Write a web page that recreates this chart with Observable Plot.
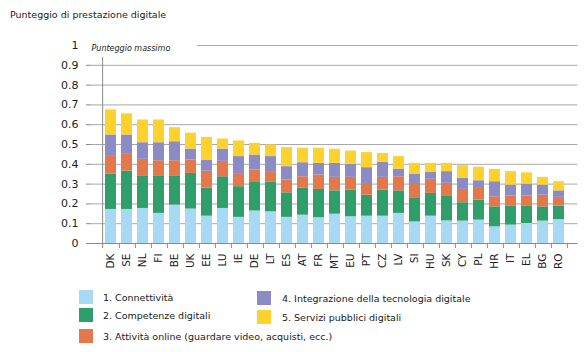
<!DOCTYPE html>
<html>
<head>
<meta charset="utf-8">
<script src="https://cdn.jsdelivr.net/npm/d3@7"></script>
<script src="https://cdn.jsdelivr.net/npm/@observablehq/plot@0.6"></script>
<style>
  html, body { margin: 0; padding: 0; background: #fff; }
  #wrap { position: relative; width: 587px; height: 352px; overflow: hidden; font-family: "DejaVu Sans", sans-serif; color: #222; }
  #chart { position: absolute; left: 0; top: 0; }
  #title { position: absolute; left: 10px; top: 9px; font-size: 9.5px; white-space: nowrap; }
  .item { position: absolute; display: flex; align-items: center; font-size: 9.5px; white-space: nowrap; }
  .sw { width: 13.5px; height: 13.5px; flex: none; }
</style>
</head>
<body>
<div id="wrap">
  <div id="chart"></div>
  <div id="title"></div>
  <div id="legend"></div>
</div>
<script>
const titleText = "Punteggio di prestazione digitale";
const maxLabel = "Punteggio massimo";
const countries = ["DK","SE","NL","FI","BE","UK","EE","LU","IE","DE","LT","ES","AT","FR","MT","EU","PT","CZ","LV","SI","HU","SK","CY","PL","HR","IT","EL","BG","RO"];
const seriesNames = ["1. Connettività","2. Competenze digitali","3. Attività online (guardare video, acquisti, ecc.)","4. Integrazione della tecnologia digitale","5. Servizi pubblici digitali"];
const seriesColors = ["#a7d9f4","#2f9e6a","#e3784a","#8b8cc6","#fdd22f"];
const connettivita = [0.172,0.172,0.177,0.152,0.194,0.174,0.138,0.177,0.132,0.164,0.160,0.132,0.143,0.130,0.148,0.135,0.138,0.138,0.152,0.109,0.138,0.114,0.113,0.118,0.084,0.093,0.101,0.113,0.121];
const competenze   = [0.179,0.194,0.165,0.190,0.148,0.180,0.142,0.160,0.155,0.148,0.149,0.124,0.138,0.143,0.118,0.135,0.106,0.132,0.114,0.122,0.115,0.127,0.093,0.101,0.101,0.097,0.089,0.072,0.068];
const attivita     = [0.093,0.084,0.083,0.076,0.076,0.068,0.085,0.078,0.062,0.059,0.050,0.065,0.056,0.073,0.068,0.064,0.059,0.064,0.071,0.067,0.071,0.063,0.067,0.059,0.051,0.050,0.050,0.059,0.044];
const integrazione = [0.104,0.098,0.084,0.091,0.096,0.055,0.054,0.062,0.090,0.076,0.080,0.067,0.071,0.059,0.071,0.066,0.080,0.076,0.039,0.053,0.035,0.059,0.056,0.039,0.076,0.055,0.060,0.051,0.033];
const servizi      = [0.127,0.107,0.115,0.115,0.071,0.080,0.117,0.051,0.079,0.059,0.059,0.096,0.073,0.076,0.071,0.067,0.076,0.045,0.063,0.054,0.046,0.042,0.064,0.068,0.062,0.068,0.057,0.039,0.046];
const yTicks = [0,0.1,0.2,0.3,0.4,0.5,0.6,0.7,0.8,0.9];
const gridTicks = [0.1,0.2,0.3,0.4,0.5,0.6,0.7,0.8,0.9];
const maxTick = [1];

const seriesValues = [connettivita, competenze, attivita, integrazione, servizi];
const data = [];
countries.forEach((c, i) => {
  seriesValues.forEach((arr, s) => data.push({country: c, series: seriesNames[s], value: arr[i]}));
});

const W = 587, H = 285, mL = 91, mR = 9.6, mT = 45, mB = 42;
const pIn = 0.34, pOut = 0.17;
const step = (W - mL - mR) / (countries.length - pIn + 2 * pOut);
const half = step / 2;
const gridColor = "#a8a8a8", axisColor = "#8a8a8a";
const fmt = d => String(+d.toFixed(1));

const chart = Plot.plot({
  width: W, height: H,
  marginLeft: mL, marginRight: mR, marginTop: mT, marginBottom: mB,
  style: {fontFamily: "DejaVu Sans, sans-serif", fontSize: "10.5px", background: "transparent", color: "#222", overflow: "visible"},
  x: {domain: countries, paddingInner: pIn, paddingOuter: pOut, axis: null},
  y: {domain: [0, 1], axis: null},
  color: {domain: seriesNames, range: seriesColors},
  marks: [
    Plot.ruleY(gridTicks, {stroke: gridColor, strokeWidth: 1}),
    Plot.ruleY(maxTick, {stroke: gridColor, strokeWidth: 1, insetLeft: 106}),
    Plot.barY(data, {x: "country", y: "value", fill: "series", order: null}),
    Plot.ruleY([0], {stroke: axisColor}),
    Plot.ruleX([countries[0]], {dx: -half, y1: 0, y2: 0.94, stroke: axisColor}),
    Plot.ruleX(countries, {dx: half, y1: 0, y2: -0.025, stroke: axisColor}),
    Plot.ruleX([countries[0]], {dx: -half, y1: 0, y2: -0.025, stroke: axisColor}),
    Plot.axisY(yTicks, {tickSize: 5, tickPadding: 8, stroke: axisColor, fontSize: 11, fill: "#222", tickFormat: fmt, label: null}),
    Plot.axisY(maxTick, {tickSize: 0, tickPadding: 13, fontSize: 11, fill: "#222", tickFormat: fmt, label: null}),
    Plot.axisX({tickSize: 0, tickPadding: 10, tickRotate: -90, fontSize: 10.5, fill: "#222", label: null}),
    Plot.text([maxLabel], {frameAnchor: "top-left", dx: 0, textAnchor: "start", fontStyle: "italic", fontSize: 8, fill: "#222"})
  ]
});
document.getElementById("chart").appendChild(chart);
document.getElementById("title").textContent = titleText;

const legendPos = [
  {left: 79, top: 290, textLeft: 103},
  {left: 79, top: 308, textLeft: 103},
  {left: 79, top: 329, textLeft: 103},
  {left: 257, top: 291, textLeft: 282},
  {left: 257, top: 310, textLeft: 282}
];
const legend = document.getElementById("legend");
seriesNames.forEach((name, i) => {
  const p = legendPos[i];
  const it = document.createElement("div");
  it.className = "item";
  it.style.left = p.left + "px";
  it.style.top = p.top + "px";
  const sw = document.createElement("div");
  sw.className = "sw";
  sw.style.background = seriesColors[i];
  const tx = document.createElement("span");
  tx.textContent = name;
  tx.style.marginLeft = (p.textLeft - p.left - 13.5) + "px";
  tx.style.position = "relative";
  tx.style.top = "1px";
  it.appendChild(sw); it.appendChild(tx);
  legend.appendChild(it);
});
</script>
</body>
</html>
